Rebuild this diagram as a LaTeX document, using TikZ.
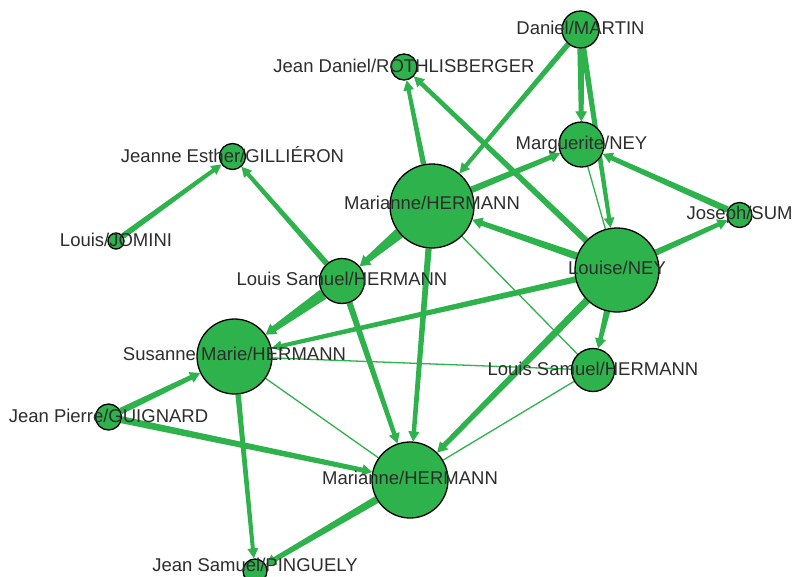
\documentclass[tikz,border=0pt]{standalone}
\usepackage{fontspec}
\setmainfont{Liberation Sans}
\usetikzlibrary{calc}
\definecolor{gr}{RGB}{46,178,75}
\definecolor{tx}{RGB}{45,45,45}
\pgfdeclarelayer{bg}
\pgfsetlayers{bg,main}
\tikzset{
  vtx/.style={circle, draw=black, line width=1.3pt, fill=gr, inner sep=0pt, minimum size=#1},
  lbl/.style={font=\fontsize{18.5}{20}\selectfont, text=tx, inner sep=0pt, text height=13.2pt, text depth=0pt},
  edgefill/.style={fill=gr},
  thinedge/.style={draw=gr, line width=1.3pt},
}
% tapered arrow edge: from, to, start half-width, end half-width
\newcommand\tedge[4]{%
  \path (#1) -- (#2) coordinate[pos=0] (ts) coordinate[pos=1] (te);
  \coordinate (tb) at ($(te)!10pt!(ts)$);
  \fill[edgefill] ($(ts)!#3!90:(te)$) -- ($(tb)!#4!90:(te)$) -- ($(tb)!#4+3.4pt!90:(te)$) -- (te)
     -- ($(tb)!#4+3.4pt!-90:(te)$) -- ($(tb)!#4!-90:(te)$) -- ($(ts)!#3!-90:(te)$) -- cycle;
}
\begin{document}
\begin{tikzpicture}[x=1pt,y=-1pt]
\useasboundingbox (0,0) rectangle (792,576);
% nodes
\node[vtx=37pt] (dm) at (580.5,29.5) {};
\node[vtx=26pt] (rb) at (404,67) {};
\node[vtx=45pt] (mn) at (581.5,144.5) {};
\node[vtx=26pt] (je) at (232.5,156.5) {};
\node[vtx=84pt] (mt) at (432,206) {};
\node[vtx=25pt] (js) at (739.5,215) {};
\node[vtx=16pt] (lj) at (116,241) {};
\node[vtx=84pt] (ln) at (617,270) {};
\node[vtx=45pt] (lsu) at (342,281) {};
\node[vtx=75pt] (sm) at (234.5,356.5) {};
\node[vtx=43pt] (lsl) at (593,370) {};
\node[vtx=26pt] (jp) at (108.5,417) {};
\node[vtx=76pt] (mb) at (410,480) {};
\node[vtx=24pt] (pg) at (255,571) {};
% edges
\begin{pgfonlayer}{bg}
\fill[white] (0,0) rectangle (792,576);
\tedge{dm}{mt}{2.7pt}{2pt}
\tedge{dm}{mn}{3.3pt}{2.5pt}
\tedge{dm}{ln}{2.9pt}{2pt}
\tedge{mt}{rb}{2.7pt}{2pt}
\tedge{ln}{rb}{3.1pt}{2.2pt}
\tedge{mt}{mn}{3.3pt}{2.4pt}
\tedge{js}{mn}{3.3pt}{2.4pt}
\tedge{ln}{js}{3.1pt}{2.2pt}
\tedge{ln}{mt}{3.7pt}{2.5pt}
\tedge{mt}{lsu}{5.5pt}{3pt}
\tedge{mt}{mb}{3.1pt}{2.2pt}
\tedge{lsu}{je}{2.9pt}{2pt}
\tedge{lj}{je}{2.9pt}{2pt}
\tedge{lsu}{sm}{5.5pt}{3pt}
\tedge{ln}{sm}{3.1pt}{2pt}
\tedge{lsu}{mb}{3.1pt}{2.2pt}
\tedge{ln}{mb}{3.7pt}{2.5pt}
\tedge{ln}{lsl}{3.1pt}{2.2pt}
\tedge{jp}{sm}{3.3pt}{2.4pt}
\tedge{jp}{mb}{3.5pt}{2.4pt}
\tedge{sm}{pg}{2.7pt}{2pt}
\tedge{mb}{pg}{3.7pt}{2.5pt}
\draw[thinedge] (mn) -- (ln);
\draw[thinedge] (sm) -- (lsl);
\draw[thinedge] (mt) -- (lsl);
\draw[thinedge] (sm) -- (mb);
\draw[thinedge] (lsl) -- (mb);
\end{pgfonlayer}
% labels
\node[lbl] (ldm) at ([yshift=2pt]dm.center) {Daniel/MARTIN};
\node[lbl] (lrb) at ([yshift=1pt]rb.center) {Jean Daniel/ROTHLISBERGER};
\node[lbl] (lmn) at ([yshift=1.5pt]mn.center) {Marguerite/NEY};
\node[lbl] (lje) at ([yshift=1pt]je.center) {Jeanne Esther/GILLIÉRON};
\node[lbl] (lmt) at ([yshift=3pt]mt.center) {Marianne/HERMANN};
\node[lbl, anchor=west] (ljs) at ([xshift=-53pt,yshift=2pt]js.center) {Joseph/SUM};
\node[lbl] (llj) at ([yshift=1pt]lj.center) {Louis/JOMINI};
\node[lbl] (lln) at ([yshift=2pt]ln.center) {Louise/NEY};
\node[lbl] (llsu) at ([yshift=2pt]lsu.center) {Louis Samuel/HERMANN};
\node[lbl] (lsm) at ([yshift=3pt]sm.center) {Susanne Marie/HERMANN};
\node[lbl] (llsl) at ([yshift=1pt]lsl.center) {Louis Samuel/HERMANN};
\node[lbl] (ljp) at ([yshift=1pt]jp.center) {Jean Pierre/GUIGNARD};
\node[lbl] (lmb) at ([yshift=2pt]mb.center) {Marianne/HERMANN};
\node[lbl] (lpg) at ([yshift=6pt]pg.center) {Jean Samuel/PINGUELY};
\end{tikzpicture}
\end{document}
